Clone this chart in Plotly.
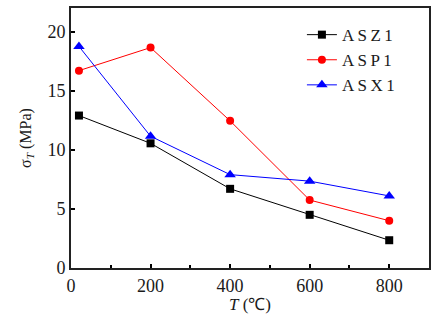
import plotly.graph_objects as go

temps = [20, 200, 400, 600, 800]
asz1 = [12.9, 10.55, 6.7, 4.5, 2.35]
asp1 = [16.7, 18.65, 12.45, 5.75, 4.0]
asx1 = [18.75, 11.15, 7.9, 7.35, 6.1]
names = ["A\u2009S\u2009Z\u20091", "A\u2009S\u2009P\u20091", "A\u2009S\u2009X\u20091"]

fig = go.Figure()
styles = [("black", "square", 8), ("red", "circle", 8), ("blue", "triangle-up", 10)]
for ys, nm, (c, sym, sz) in zip([asz1, asp1, asx1], names, styles):
    fig.add_trace(go.Scatter(x=temps, y=ys, name=nm, mode="lines+markers",
                             line=dict(color=c, width=1),
                             marker=dict(color=c, symbol=sym, size=sz)))

font = dict(family="Liberation Serif, Times New Roman, serif", size=18, color="#1a1a1a")
fig.update_layout(
    width=432, height=320,
    margin=dict(l=71, r=1, t=8, b=52),
    paper_bgcolor="white", plot_bgcolor="white",
    font=font,
    showlegend=True,
    legend=dict(x=0.645, y=0.965, xanchor="left", yanchor="top",
                bgcolor="rgba(0,0,0,0)", font=dict(size=17),
                tracegroupgap=0, itemwidth=30),
)
fig.update_xaxes(range=[0, 900], tickvals=[0, 200, 400, 600, 800],
                 ticks="inside", ticklen=4, tickwidth=1.5, tickcolor="black",
                 minor=dict(tickvals=[100, 300, 500, 700, 900], ticks="inside", ticklen=3, tickwidth=1.5, tickcolor="black"),
                 showline=True, linecolor="#222", linewidth=1.8, mirror=True,
                 showgrid=False, zeroline=False,
                 title=dict(text="<i>T</i> (\u2103)", standoff=4, font=dict(size=17)))
fig.update_yaxes(range=[0, 22], tickvals=[0, 5, 10, 15, 20],
                 ticks="inside", ticklen=4, tickwidth=1.5, tickcolor="black",
                 showline=True, linecolor="#222", linewidth=1.8, mirror=True,
                 showgrid=False, zeroline=False,
                 title=dict(text="\u03c3<sub><i>T</i></sub> (MPa)", standoff=12, font=dict(size=16)))

fig.write_html("out.html", config={"displayModeBar": False},
               post_script="document.body.style.margin='0';")
